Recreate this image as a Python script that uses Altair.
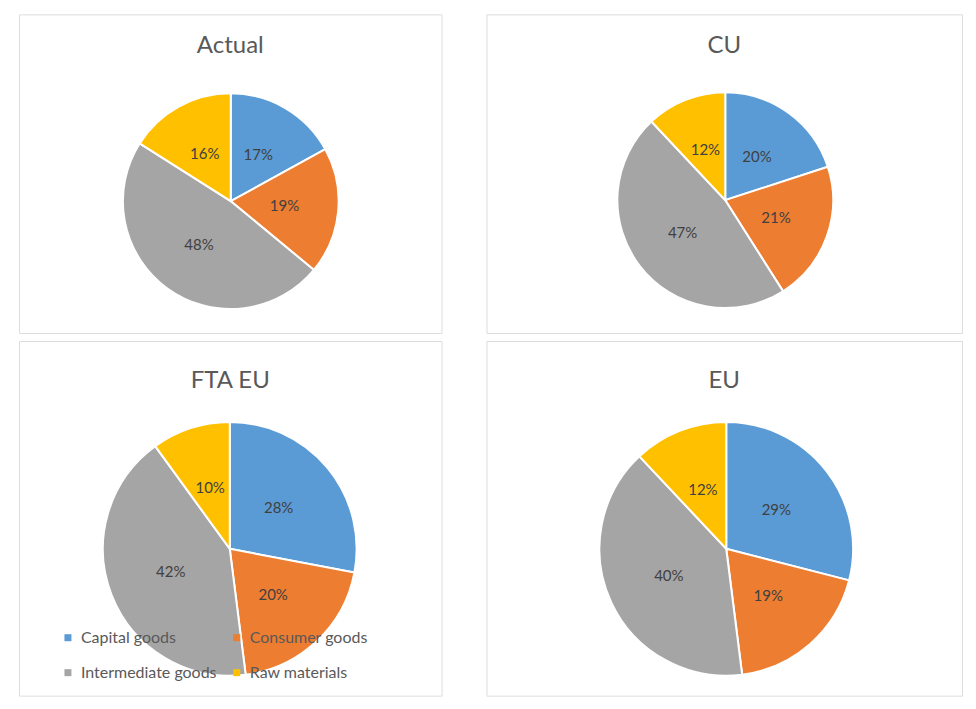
import altair as alt
import pandas as pd

categories = ["Capital goods", "Consumer goods", "Intermediate goods", "Raw materials"]
colors = ["#5B9BD5", "#ED7D31", "#A5A5A5", "#FFC000"]
titles = ["Actual", "CU", "FTA EU", "EU"]
actual = [17, 19, 48, 16]
cu = [20, 21, 47, 12]
fta_eu = [28, 20, 42, 10]
eu = [29, 19, 40, 12]

FONT = "Lato"


def pie(title, values, w, h, cx, cy, r, toff, show_legend=False):
    df = pd.DataFrame({
        "category": categories,
        "value": values,
        "order": list(range(len(categories))),
        "label": [f"{v}%" for v in values],
    })
    if show_legend:
        legend = alt.Legend(
            orient="none", legendX=41, legendY=289, columns=2, direction="horizontal", title=None,
            symbolType="square", symbolSize=49, symbolStrokeWidth=0,
            labelFontSize=16, labelFont=FONT, labelColor="#595959",
            rowPadding=19, columnPadding=12, labelOffset=5, padding=0,
        )
    else:
        legend = None
    base = alt.Chart(df).encode(
        theta=alt.Theta("value:Q", stack=True),
        order=alt.Order("order:Q"),
        color=alt.Color("category:N", scale=alt.Scale(domain=categories, range=colors), legend=legend),
    )
    arc = base.mark_arc(outerRadius=r, stroke="white", strokeWidth=2).encode(
        x=alt.value(cx), y=alt.value(cy)
    )
    txt = base.mark_text(radius=r * 0.5, fontSize=15, font=FONT).encode(
        x=alt.value(cx), y=alt.value(cy), text="label:N", color=alt.value("#404040")
    )
    return alt.layer(arc, txt).properties(
        width=w, height=h,
        title=alt.TitleParams(title, fontSize=24, font=FONT, color="#595959", fontWeight="normal",
                              anchor="middle", offset=toff, baseline="alphabetic"),
    )


p1 = pie(titles[0], actual, 423, 319, 212, 187, 108, -63)
p2 = pie(titles[1], cu, 476, 319, 239, 186, 108, -63)
p3 = pie(titles[2], fta_eu, 423, 355, 211, 208, 127, -71, show_legend=True)
p4 = pie(titles[3], eu, 476, 355, 240, 208, 127, -71)

row1 = alt.hconcat(p1, p2, spacing=43).resolve_scale(color="independent")
row2 = alt.hconcat(p3, p4, spacing=43).resolve_scale(color="independent")

chart = alt.vconcat(row1, row2, spacing=6).resolve_scale(color="independent").properties(
    padding={"left": 10, "top": 5, "right": 5, "bottom": 5}
).configure_view(stroke="#D9D9D9", strokeWidth=2).configure(background="white")

chart.save("out.html", embed_options={"renderer": "svg", "actions": False})
